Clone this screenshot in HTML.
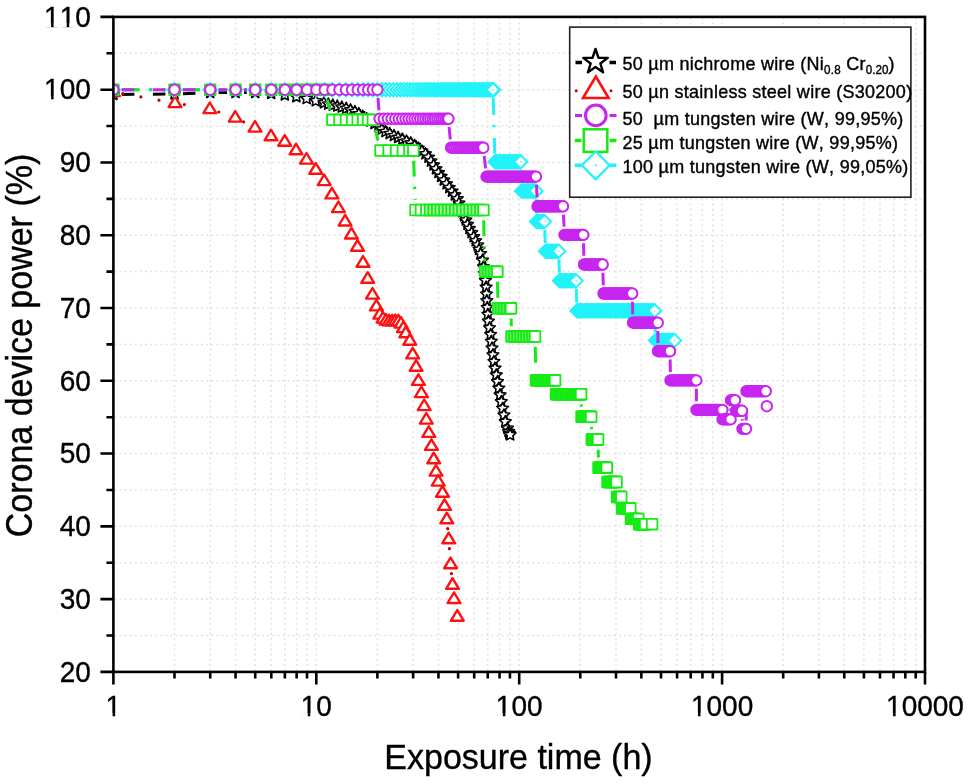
<!DOCTYPE html>
<html><head><meta charset="utf-8"><title>Corona device power</title>
<style>html,body{margin:0;padding:0;background:#fff;width:968px;height:784px;overflow:hidden;font-family:"Liberation Sans",sans-serif}svg{display:block;filter:blur(0.4px)}text{font-kerning:none}</style>
</head><body>
<svg width="968" height="784" viewBox="0 0 968 784">
<defs>
<clipPath id="pa"><rect x="113.4" y="16.9" width="811.6" height="655.0"/></clipPath>
<polygon id="st" points="0.00,-6.10 1.72,-2.37 5.80,-1.89 2.78,0.90 3.59,4.94 0.00,2.93 -3.59,4.94 -2.78,0.90 -5.80,-1.89 -1.72,-2.37" fill="#fff" stroke="#000" stroke-width="1.6" stroke-linejoin="round"/>
<polygon id="tr" points="0,-6.5 6.4,4.1 -6.4,4.1" fill="#fff" stroke="#ff1010" stroke-width="2.4" stroke-linejoin="round"/>
<circle id="ci" r="5.2" fill="#fff" stroke="#c825f0" stroke-width="2"/>
<rect id="sq" x="-5.3" y="-5.3" width="10.6" height="10.6" stroke="#14ea14" stroke-width="1.8" stroke-linejoin="round"/>
<g id="di"><polygon points="0,-6.6 6.6,0 0,6.6 -6.6,0" fill="#fff" stroke="#22f2fa" stroke-width="2"/><circle r="0.7" fill="#22f2fa"/></g>
</defs>
<rect width="968" height="784" fill="#fff"/>
<path d="M113.4 635.51H925.0M113.4 599.12H925.0M113.4 562.73H925.0M113.4 526.34H925.0M113.4 489.96H925.0M113.4 453.57H925.0M113.4 417.18H925.0M113.4 380.79H925.0M113.4 344.40H925.0M113.4 308.01H925.0M113.4 271.62H925.0M113.4 235.23H925.0M113.4 198.84H925.0M113.4 162.46H925.0M113.4 126.07H925.0M113.4 89.68H925.0M113.4 53.29H925.0" stroke="#e2e2e2" stroke-width="1.5" stroke-dasharray="2 3.0956" stroke-dashoffset="4.136" fill="none"/>
<path d="M174.48 16.9V671.9M210.21 16.9V671.9M235.56 16.9V671.9M255.22 16.9V671.9M271.29 16.9V671.9M284.87 16.9V671.9M296.64 16.9V671.9M307.02 16.9V671.9M316.30 16.9V671.9M377.38 16.9V671.9M413.11 16.9V671.9M438.46 16.9V671.9M458.12 16.9V671.9M474.19 16.9V671.9M487.77 16.9V671.9M499.54 16.9V671.9M509.92 16.9V671.9M519.20 16.9V671.9M580.28 16.9V671.9M616.01 16.9V671.9M641.36 16.9V671.9M661.02 16.9V671.9M677.09 16.9V671.9M690.67 16.9V671.9M702.44 16.9V671.9M712.82 16.9V671.9M722.10 16.9V671.9M783.18 16.9V671.9M818.91 16.9V671.9M844.26 16.9V671.9M863.92 16.9V671.9M879.99 16.9V671.9M893.57 16.9V671.9M905.34 16.9V671.9M915.72 16.9V671.9" stroke="#e2e2e2" stroke-width="1.5" stroke-dasharray="2 3.174" stroke-dashoffset="4.74" fill="none"/>
<g clip-path="url(#pa)">
<path d="M121.90 94.43L165.98 94.07M182.97 93.67L201.69 92.93M218.68 92.60L227.04 92.60M244.04 92.60L246.70 92.60" fill="none" stroke="#000" stroke-width="3" stroke-dasharray="12.5 18.5"/>
<path d="M122.75 93.67L165.65 101.33M184.36 104.61L200.44 107.39M218.81 112.01L226.19 114.49M243.68 121.78L246.52 123.22M447.70 528.66L447.80 529.74M449.42 548.67L449.88 554.63M451.47 573.56L451.63 575.24" fill="none" stroke="#c40000" stroke-width="3.2" stroke-linecap="round" stroke-dasharray="0 18.4"/>
<use href="#st" x="113.4" y="94.5"/>
<use href="#st" x="174.5" y="94.0"/>
<use href="#st" x="210.2" y="92.6"/>
<use href="#st" x="235.5" y="92.6"/>
<use href="#st" x="255.2" y="92.6"/>
<use href="#st" x="271.2" y="93.5"/>
<use href="#st" x="284.8" y="95.0"/>
<use href="#st" x="296.4" y="96.8"/>
<use href="#st" x="306.6" y="98.7"/>
<use href="#st" x="315.7" y="100.9"/>
<use href="#st" x="323.9" y="102.9"/>
<use href="#st" x="328.3" y="104.1"/>
<use href="#st" x="332.8" y="105.2"/>
<use href="#st" x="337.3" y="106.2"/>
<use href="#st" x="341.8" y="107.2"/>
<use href="#st" x="346.2" y="108.4"/>
<use href="#st" x="350.5" y="110.0"/>
<use href="#st" x="354.9" y="111.6"/>
<use href="#st" x="358.8" y="113.8"/>
<use href="#st" x="362.7" y="116.4"/>
<use href="#st" x="366.6" y="118.8"/>
<use href="#st" x="370.5" y="121.2"/>
<use href="#st" x="374.5" y="123.6"/>
<use href="#st" x="378.2" y="126.3"/>
<use href="#st" x="381.7" y="129.2"/>
<use href="#st" x="385.5" y="131.7"/>
<use href="#st" x="389.7" y="133.6"/>
<use href="#st" x="393.9" y="135.6"/>
<use href="#st" x="398.1" y="137.5"/>
<use href="#st" x="402.3" y="139.3"/>
<use href="#st" x="406.5" y="141.1"/>
<use href="#st" x="410.7" y="143.0"/>
<use href="#st" x="414.6" y="145.5"/>
<use href="#st" x="418.2" y="148.3"/>
<use href="#st" x="421.9" y="151.1"/>
<use href="#st" x="425.5" y="153.9"/>
<use href="#st" x="428.5" y="157.3"/>
<use href="#st" x="431.0" y="161.1"/>
<use href="#st" x="433.5" y="165.0"/>
<use href="#st" x="436.0" y="168.9"/>
<use href="#st" x="438.5" y="172.7"/>
<use href="#st" x="441.1" y="176.5"/>
<use href="#st" x="443.8" y="180.2"/>
<use href="#st" x="446.6" y="183.9"/>
<use href="#st" x="449.3" y="187.6"/>
<use href="#st" x="452.0" y="191.3"/>
<use href="#st" x="454.8" y="195.0"/>
<use href="#st" x="457.3" y="198.8"/>
<use href="#st" x="459.0" y="203.1"/>
<use href="#st" x="460.7" y="207.4"/>
<use href="#st" x="462.4" y="211.6"/>
<use href="#st" x="464.1" y="215.9"/>
<use href="#st" x="465.8" y="220.2"/>
<use href="#st" x="467.5" y="224.5"/>
<use href="#st" x="469.5" y="228.6"/>
<use href="#st" x="471.6" y="232.7"/>
<use href="#st" x="473.7" y="236.8"/>
<use href="#st" x="475.7" y="240.9"/>
<use href="#st" x="477.7" y="245.1"/>
<use href="#st" x="479.1" y="249.4"/>
<use href="#st" x="480.5" y="253.8"/>
<use href="#st" x="482.5" y="260.3"/>
<use href="#st" x="483.5" y="267.0"/>
<use href="#st" x="484.4" y="273.8"/>
<use href="#st" x="485.4" y="280.5"/>
<use href="#st" x="486.1" y="287.3"/>
<use href="#st" x="486.5" y="294.1"/>
<use href="#st" x="486.8" y="300.8"/>
<use href="#st" x="487.2" y="307.6"/>
<use href="#st" x="487.8" y="314.4"/>
<use href="#st" x="488.4" y="321.2"/>
<use href="#st" x="489.5" y="327.9"/>
<use href="#st" x="490.6" y="334.6"/>
<use href="#st" x="491.3" y="341.4"/>
<use href="#st" x="492.0" y="348.1"/>
<use href="#st" x="492.9" y="354.9"/>
<use href="#st" x="493.9" y="361.6"/>
<use href="#st" x="495.0" y="368.3"/>
<use href="#st" x="496.3" y="375.0"/>
<use href="#st" x="497.5" y="381.7"/>
<use href="#st" x="498.8" y="388.3"/>
<use href="#st" x="500.1" y="395.0"/>
<use href="#st" x="501.3" y="401.7"/>
<use href="#st" x="502.6" y="408.4"/>
<use href="#st" x="503.9" y="415.1"/>
<use href="#st" x="505.3" y="421.7"/>
<use href="#st" x="507.4" y="428.2"/>
<use href="#st" x="509.9" y="434.5"/>
<use href="#st" x="508.5" y="431.5"/>
<use href="#st" x="509.3" y="433.3"/>
<use href="#st" x="510.1" y="434.9"/>
<use href="#tr" x="113.4" y="92.0"/>
<use href="#tr" x="175.0" y="103.0"/>
<use href="#tr" x="209.8" y="109.0"/>
<use href="#tr" x="235.2" y="117.5"/>
<use href="#tr" x="255.0" y="127.5"/>
<use href="#tr" x="271.0" y="136.2"/>
<use href="#tr" x="284.7" y="141.6"/>
<use href="#tr" x="296.0" y="150.2"/>
<use href="#tr" x="306.5" y="159.5"/>
<use href="#tr" x="315.8" y="169.6"/>
<use href="#tr" x="324.2" y="181.0"/>
<use href="#tr" x="331.9" y="194.3"/>
<use href="#tr" x="338.4" y="208.0"/>
<use href="#tr" x="345.1" y="221.4"/>
<use href="#tr" x="351.4" y="234.4"/>
<use href="#tr" x="357.5" y="246.6"/>
<use href="#tr" x="363.0" y="262.6"/>
<use href="#tr" x="367.7" y="278.7"/>
<use href="#tr" x="372.5" y="294.5"/>
<use href="#tr" x="376.4" y="306.3"/>
<use href="#tr" x="379.8" y="314.5"/>
<use href="#tr" x="383.0" y="318.5"/>
<use href="#tr" x="386.0" y="320.5"/>
<use href="#tr" x="389.0" y="321.3"/>
<use href="#tr" x="392.2" y="321.3"/>
<use href="#tr" x="395.3" y="321.0"/>
<use href="#tr" x="398.3" y="321.3"/>
<use href="#tr" x="401.0" y="323.5"/>
<use href="#tr" x="403.4" y="328.0"/>
<use href="#tr" x="405.8" y="333.2"/>
<use href="#tr" x="409.8" y="340.6"/>
<use href="#tr" x="412.7" y="354.3"/>
<use href="#tr" x="416.1" y="366.7"/>
<use href="#tr" x="418.4" y="380.8"/>
<use href="#tr" x="421.4" y="393.0"/>
<use href="#tr" x="424.2" y="406.0"/>
<use href="#tr" x="426.3" y="419.5"/>
<use href="#tr" x="428.8" y="432.8"/>
<use href="#tr" x="431.4" y="445.8"/>
<use href="#tr" x="433.7" y="459.2"/>
<use href="#tr" x="436.0" y="471.5"/>
<use href="#tr" x="438.2" y="481.5"/>
<use href="#tr" x="442.5" y="492.6"/>
<use href="#tr" x="444.5" y="505.8"/>
<use href="#tr" x="446.8" y="519.2"/>
<use href="#tr" x="448.7" y="539.2"/>
<use href="#tr" x="450.6" y="564.1"/>
<use href="#tr" x="452.5" y="584.7"/>
<use href="#tr" x="454.0" y="598.9"/>
<use href="#tr" x="457.3" y="616.6"/>
<path d="M121.50 89.68L166.38 89.68M182.58 89.68L202.11 89.68M218.31 89.68L227.46 89.68M243.66 89.68L247.12 89.68M493.22 97.77L494.78 153.70M520.92 169.90L521.28 183.00M536.13 199.20L536.37 213.50M544.77 229.70L545.23 243.10M558.99 259.30L559.31 272.70M576.34 288.90L576.76 302.70M654.92 318.90L655.28 332.40" fill="none" stroke="#22f2fa" stroke-width="3" stroke-dasharray="17.3 9.7 2.5 10.8"/>
<use href="#di" x="113.4" y="89.7"/>
<use href="#di" x="174.5" y="89.7"/>
<use href="#di" x="210.2" y="89.7"/>
<use href="#di" x="235.6" y="89.7"/>
<use href="#di" x="255.2" y="89.7"/>
<use href="#di" x="271.3" y="89.7"/>
<use href="#di" x="284.9" y="89.7"/>
<use href="#di" x="296.6" y="89.7"/>
<use href="#di" x="307.0" y="89.7"/>
<use href="#di" x="316.3" y="89.7"/>
<use href="#di" x="324.7" y="89.7"/>
<use href="#di" x="332.4" y="89.7"/>
<use href="#di" x="339.4" y="89.7"/>
<use href="#di" x="345.9" y="89.7"/>
<use href="#di" x="352.0" y="89.7"/>
<use href="#di" x="357.7" y="89.7"/>
<use href="#di" x="363.1" y="89.7"/>
<use href="#di" x="368.1" y="89.7"/>
<use href="#di" x="372.9" y="89.7"/>
<use href="#di" x="377.4" y="89.7"/>
<use href="#di" x="381.7" y="89.7"/>
<use href="#di" x="385.8" y="89.7"/>
<use href="#di" x="389.7" y="89.7"/>
<use href="#di" x="393.4" y="89.7"/>
<use href="#di" x="397.0" y="89.7"/>
<use href="#di" x="400.5" y="89.7"/>
<use href="#di" x="403.8" y="89.7"/>
<use href="#di" x="407.0" y="89.7"/>
<use href="#di" x="410.1" y="89.7"/>
<use href="#di" x="413.1" y="89.7"/>
<use href="#di" x="416.0" y="89.7"/>
<use href="#di" x="418.8" y="89.7"/>
<use href="#di" x="421.5" y="89.7"/>
<use href="#di" x="424.1" y="89.7"/>
<use href="#di" x="426.7" y="89.7"/>
<use href="#di" x="429.2" y="89.7"/>
<use href="#di" x="431.6" y="89.7"/>
<use href="#di" x="433.9" y="89.7"/>
<use href="#di" x="436.2" y="89.7"/>
<use href="#di" x="438.5" y="89.7"/>
<use href="#di" x="440.6" y="89.7"/>
<use href="#di" x="442.8" y="89.7"/>
<use href="#di" x="444.8" y="89.7"/>
<use href="#di" x="446.9" y="89.7"/>
<use href="#di" x="448.8" y="89.7"/>
<use href="#di" x="450.8" y="89.7"/>
<use href="#di" x="452.7" y="89.7"/>
<use href="#di" x="454.5" y="89.7"/>
<use href="#di" x="456.3" y="89.7"/>
<use href="#di" x="458.1" y="89.7"/>
<use href="#di" x="459.9" y="89.7"/>
<use href="#di" x="461.6" y="89.7"/>
<use href="#di" x="463.3" y="89.7"/>
<use href="#di" x="464.9" y="89.7"/>
<use href="#di" x="466.5" y="89.7"/>
<use href="#di" x="468.1" y="89.7"/>
<use href="#di" x="469.7" y="89.7"/>
<use href="#di" x="471.2" y="89.7"/>
<use href="#di" x="472.7" y="89.7"/>
<use href="#di" x="474.2" y="89.7"/>
<use href="#di" x="475.6" y="89.7"/>
<use href="#di" x="477.1" y="89.7"/>
<use href="#di" x="478.5" y="89.7"/>
<use href="#di" x="479.9" y="89.7"/>
<use href="#di" x="481.2" y="89.7"/>
<use href="#di" x="482.6" y="89.7"/>
<use href="#di" x="483.9" y="89.7"/>
<use href="#di" x="485.2" y="89.7"/>
<use href="#di" x="486.5" y="89.7"/>
<use href="#di" x="487.8" y="89.7"/>
<use href="#di" x="489.0" y="89.7"/>
<use href="#di" x="490.3" y="89.7"/>
<use href="#di" x="491.5" y="89.7"/>
<use href="#di" x="492.7" y="89.7"/>
<use href="#di" x="493.8" y="89.7"/>
<use href="#di" x="493.0" y="89.7"/>
<use href="#di" x="495.0" y="161.8"/>
<use href="#di" x="496.2" y="161.8"/>
<use href="#di" x="497.4" y="161.8"/>
<use href="#di" x="498.6" y="161.8"/>
<use href="#di" x="499.8" y="161.8"/>
<use href="#di" x="501.0" y="161.8"/>
<use href="#di" x="502.2" y="161.8"/>
<use href="#di" x="503.4" y="161.8"/>
<use href="#di" x="504.6" y="161.8"/>
<use href="#di" x="505.8" y="161.8"/>
<use href="#di" x="507.0" y="161.8"/>
<use href="#di" x="508.2" y="161.8"/>
<use href="#di" x="509.4" y="161.8"/>
<use href="#di" x="510.6" y="161.8"/>
<use href="#di" x="511.8" y="161.8"/>
<use href="#di" x="513.0" y="161.8"/>
<use href="#di" x="514.2" y="161.8"/>
<use href="#di" x="515.4" y="161.8"/>
<use href="#di" x="516.6" y="161.8"/>
<use href="#di" x="517.8" y="161.8"/>
<use href="#di" x="519.0" y="161.8"/>
<use href="#di" x="520.2" y="161.8"/>
<use href="#di" x="520.7" y="161.8"/>
<use href="#di" x="521.5" y="191.1"/>
<use href="#di" x="522.7" y="191.1"/>
<use href="#di" x="523.9" y="191.1"/>
<use href="#di" x="525.1" y="191.1"/>
<use href="#di" x="526.3" y="191.1"/>
<use href="#di" x="527.5" y="191.1"/>
<use href="#di" x="528.7" y="191.1"/>
<use href="#di" x="529.9" y="191.1"/>
<use href="#di" x="531.1" y="191.1"/>
<use href="#di" x="532.3" y="191.1"/>
<use href="#di" x="533.5" y="191.1"/>
<use href="#di" x="534.7" y="191.1"/>
<use href="#di" x="536.0" y="191.1"/>
<use href="#di" x="536.5" y="221.6"/>
<use href="#di" x="537.7" y="221.6"/>
<use href="#di" x="538.9" y="221.6"/>
<use href="#di" x="540.1" y="221.6"/>
<use href="#di" x="541.3" y="221.6"/>
<use href="#di" x="542.5" y="221.6"/>
<use href="#di" x="543.7" y="221.6"/>
<use href="#di" x="544.5" y="221.6"/>
<use href="#di" x="545.5" y="251.2"/>
<use href="#di" x="546.7" y="251.2"/>
<use href="#di" x="547.9" y="251.2"/>
<use href="#di" x="549.1" y="251.2"/>
<use href="#di" x="550.3" y="251.2"/>
<use href="#di" x="551.5" y="251.2"/>
<use href="#di" x="552.7" y="251.2"/>
<use href="#di" x="553.9" y="251.2"/>
<use href="#di" x="555.1" y="251.2"/>
<use href="#di" x="556.3" y="251.2"/>
<use href="#di" x="557.5" y="251.2"/>
<use href="#di" x="558.8" y="251.2"/>
<use href="#di" x="559.5" y="280.8"/>
<use href="#di" x="560.7" y="280.8"/>
<use href="#di" x="561.9" y="280.8"/>
<use href="#di" x="563.1" y="280.8"/>
<use href="#di" x="564.3" y="280.8"/>
<use href="#di" x="565.5" y="280.8"/>
<use href="#di" x="566.7" y="280.8"/>
<use href="#di" x="567.9" y="280.8"/>
<use href="#di" x="569.1" y="280.8"/>
<use href="#di" x="570.3" y="280.8"/>
<use href="#di" x="571.5" y="280.8"/>
<use href="#di" x="572.7" y="280.8"/>
<use href="#di" x="573.9" y="280.8"/>
<use href="#di" x="575.1" y="280.8"/>
<use href="#di" x="576.1" y="280.8"/>
<use href="#di" x="577.0" y="310.8"/>
<use href="#di" x="578.2" y="310.8"/>
<use href="#di" x="579.4" y="310.8"/>
<use href="#di" x="580.6" y="310.8"/>
<use href="#di" x="581.8" y="310.8"/>
<use href="#di" x="583.0" y="310.8"/>
<use href="#di" x="584.2" y="310.8"/>
<use href="#di" x="585.4" y="310.8"/>
<use href="#di" x="586.6" y="310.8"/>
<use href="#di" x="587.8" y="310.8"/>
<use href="#di" x="589.0" y="310.8"/>
<use href="#di" x="590.2" y="310.8"/>
<use href="#di" x="591.4" y="310.8"/>
<use href="#di" x="592.6" y="310.8"/>
<use href="#di" x="593.8" y="310.8"/>
<use href="#di" x="595.0" y="310.8"/>
<use href="#di" x="596.2" y="310.8"/>
<use href="#di" x="597.4" y="310.8"/>
<use href="#di" x="598.6" y="310.8"/>
<use href="#di" x="599.8" y="310.8"/>
<use href="#di" x="601.0" y="310.8"/>
<use href="#di" x="602.2" y="310.8"/>
<use href="#di" x="603.4" y="310.8"/>
<use href="#di" x="604.6" y="310.8"/>
<use href="#di" x="605.8" y="310.8"/>
<use href="#di" x="607.0" y="310.8"/>
<use href="#di" x="608.2" y="310.8"/>
<use href="#di" x="609.4" y="310.8"/>
<use href="#di" x="610.6" y="310.8"/>
<use href="#di" x="611.8" y="310.8"/>
<use href="#di" x="613.0" y="310.8"/>
<use href="#di" x="614.2" y="310.8"/>
<use href="#di" x="615.4" y="310.8"/>
<use href="#di" x="616.6" y="310.8"/>
<use href="#di" x="617.8" y="310.8"/>
<use href="#di" x="619.0" y="310.8"/>
<use href="#di" x="620.2" y="310.8"/>
<use href="#di" x="621.4" y="310.8"/>
<use href="#di" x="622.6" y="310.8"/>
<use href="#di" x="623.8" y="310.8"/>
<use href="#di" x="625.0" y="310.8"/>
<use href="#di" x="626.2" y="310.8"/>
<use href="#di" x="627.4" y="310.8"/>
<use href="#di" x="628.6" y="310.8"/>
<use href="#di" x="629.8" y="310.8"/>
<use href="#di" x="631.0" y="310.8"/>
<use href="#di" x="632.2" y="310.8"/>
<use href="#di" x="633.4" y="310.8"/>
<use href="#di" x="634.6" y="310.8"/>
<use href="#di" x="635.8" y="310.8"/>
<use href="#di" x="637.0" y="310.8"/>
<use href="#di" x="638.2" y="310.8"/>
<use href="#di" x="639.4" y="310.8"/>
<use href="#di" x="640.6" y="310.8"/>
<use href="#di" x="641.8" y="310.8"/>
<use href="#di" x="643.0" y="310.8"/>
<use href="#di" x="644.2" y="310.8"/>
<use href="#di" x="645.4" y="310.8"/>
<use href="#di" x="646.6" y="310.8"/>
<use href="#di" x="647.8" y="310.8"/>
<use href="#di" x="649.0" y="310.8"/>
<use href="#di" x="650.2" y="310.8"/>
<use href="#di" x="651.4" y="310.8"/>
<use href="#di" x="652.6" y="310.8"/>
<use href="#di" x="653.8" y="310.8"/>
<use href="#di" x="654.7" y="310.8"/>
<use href="#di" x="655.5" y="340.5"/>
<use href="#di" x="656.7" y="340.5"/>
<use href="#di" x="657.9" y="340.5"/>
<use href="#di" x="659.1" y="340.5"/>
<use href="#di" x="660.3" y="340.5"/>
<use href="#di" x="661.5" y="340.5"/>
<use href="#di" x="662.7" y="340.5"/>
<use href="#di" x="663.9" y="340.5"/>
<use href="#di" x="665.1" y="340.5"/>
<use href="#di" x="666.3" y="340.5"/>
<use href="#di" x="667.5" y="340.5"/>
<use href="#di" x="668.7" y="340.5"/>
<use href="#di" x="669.9" y="340.5"/>
<use href="#di" x="671.1" y="340.5"/>
<use href="#di" x="672.3" y="340.5"/>
<use href="#di" x="673.5" y="340.5"/>
<use href="#di" x="674.5" y="340.5"/>
<path d="M123.60 89.68L164.28 89.68M184.68 89.68L200.01 89.68M220.41 89.68L225.36 89.68M327.23 99.56L329.87 109.92M375.35 129.70L378.05 140.60M413.68 160.69L415.12 199.81M483.66 220.20L484.74 261.40M497.49 281.80L497.81 298.10M511.18 318.50L511.32 326.30M535.23 346.70L535.77 370.10M581.28 404.40L581.32 406.60M591.47 427.00L591.53 429.30M598.24 449.70L598.36 457.50" fill="none" stroke="#14ea14" stroke-width="3" stroke-dasharray="16 10 2.5 9.8"/>
<g fill="#fff">
<use href="#sq" x="113.4" y="89.7"/>
<use href="#sq" x="174.5" y="89.7"/>
<use href="#sq" x="210.2" y="89.7"/>
<use href="#sq" x="235.6" y="89.7"/>
<use href="#sq" x="255.2" y="89.7"/>
<use href="#sq" x="271.3" y="89.7"/>
<use href="#sq" x="284.9" y="89.7"/>
<use href="#sq" x="296.6" y="89.7"/>
<use href="#sq" x="307.0" y="89.7"/>
<use href="#sq" x="316.3" y="89.7"/>
<use href="#sq" x="324.7" y="89.7"/>
<use href="#sq" x="332.4" y="119.8"/>
<use href="#sq" x="339.5" y="119.8"/>
<use href="#sq" x="346.0" y="119.8"/>
<use href="#sq" x="352.1" y="119.8"/>
<use href="#sq" x="357.7" y="119.8"/>
<use href="#sq" x="363.1" y="119.8"/>
<use href="#sq" x="368.1" y="119.8"/>
<use href="#sq" x="372.9" y="119.8"/>
<use href="#sq" x="380.5" y="150.5"/>
<use href="#sq" x="388.6" y="150.5"/>
<use href="#sq" x="396.1" y="150.5"/>
<use href="#sq" x="402.9" y="150.5"/>
<use href="#sq" x="409.3" y="150.5"/>
<use href="#sq" x="413.3" y="150.5"/>
<use href="#sq" x="415.5" y="210.0"/>
<use href="#sq" x="421.0" y="210.0"/>
<use href="#sq" x="426.3" y="210.0"/>
<use href="#sq" x="430.0" y="210.0" fill="#a2f3a2"/>
<use href="#sq" x="433.6" y="210.0" fill="#a2f3a2"/>
<use href="#sq" x="437.2" y="210.0" fill="#a2f3a2"/>
<use href="#sq" x="440.8" y="210.0" fill="#a2f3a2"/>
<use href="#sq" x="444.4" y="210.0" fill="#a2f3a2"/>
<use href="#sq" x="448.0" y="210.0" fill="#a2f3a2"/>
<use href="#sq" x="451.6" y="210.0" fill="#a2f3a2"/>
<use href="#sq" x="455.2" y="210.0" fill="#a2f3a2"/>
<use href="#sq" x="458.8" y="210.0" fill="#a2f3a2"/>
<use href="#sq" x="462.4" y="210.0" fill="#a2f3a2"/>
<use href="#sq" x="466.0" y="210.0" fill="#a2f3a2"/>
<use href="#sq" x="469.6" y="210.0" fill="#a2f3a2"/>
<use href="#sq" x="473.2" y="210.0" fill="#a2f3a2"/>
<use href="#sq" x="476.8" y="210.0" fill="#a2f3a2"/>
<use href="#sq" x="480.4" y="210.0" fill="#a2f3a2"/>
<use href="#sq" x="483.4" y="210.0"/>
<use href="#sq" x="485.0" y="271.6" fill="#6aec6a"/>
<use href="#sq" x="488.0" y="271.6" fill="#6aec6a"/>
<use href="#sq" x="491.0" y="271.6" fill="#6aec6a"/>
<use href="#sq" x="494.0" y="271.6" fill="#6aec6a"/>
<use href="#sq" x="497.0" y="271.6" fill="#6aec6a"/>
<use href="#sq" x="497.3" y="271.6"/>
<use href="#sq" x="498.0" y="308.3" fill="#6aec6a"/>
<use href="#sq" x="501.0" y="308.3" fill="#6aec6a"/>
<use href="#sq" x="504.0" y="308.3" fill="#6aec6a"/>
<use href="#sq" x="507.0" y="308.3" fill="#6aec6a"/>
<use href="#sq" x="510.0" y="308.3" fill="#6aec6a"/>
<use href="#sq" x="511.0" y="308.3"/>
<use href="#sq" x="511.5" y="336.5" fill="#6aec6a"/>
<use href="#sq" x="514.5" y="336.5" fill="#6aec6a"/>
<use href="#sq" x="517.5" y="336.5" fill="#6aec6a"/>
<use href="#sq" x="520.5" y="336.5" fill="#6aec6a"/>
<use href="#sq" x="523.5" y="336.5" fill="#6aec6a"/>
<use href="#sq" x="526.5" y="336.5" fill="#6aec6a"/>
<use href="#sq" x="529.5" y="336.5" fill="#6aec6a"/>
<use href="#sq" x="532.5" y="336.5" fill="#6aec6a"/>
<use href="#sq" x="535.0" y="336.5"/>
<use href="#sq" x="536.0" y="380.3"/>
<use href="#sq" x="537.2" y="380.3"/>
<use href="#sq" x="538.4" y="380.3"/>
<use href="#sq" x="539.6" y="380.3"/>
<use href="#sq" x="540.8" y="380.3"/>
<use href="#sq" x="542.0" y="380.3"/>
<use href="#sq" x="543.2" y="380.3"/>
<use href="#sq" x="544.4" y="380.3"/>
<use href="#sq" x="545.6" y="380.3"/>
<use href="#sq" x="546.8" y="380.3"/>
<use href="#sq" x="548.0" y="380.3"/>
<use href="#sq" x="549.2" y="380.3"/>
<use href="#sq" x="550.4" y="380.3"/>
<use href="#sq" x="551.6" y="380.3"/>
<use href="#sq" x="552.8" y="380.3"/>
<use href="#sq" x="554.0" y="380.3"/>
<use href="#sq" x="555.1" y="380.3"/>
<use href="#sq" x="556.0" y="394.2"/>
<use href="#sq" x="557.2" y="394.2"/>
<use href="#sq" x="558.4" y="394.2"/>
<use href="#sq" x="559.6" y="394.2"/>
<use href="#sq" x="560.8" y="394.2"/>
<use href="#sq" x="562.0" y="394.2"/>
<use href="#sq" x="563.2" y="394.2"/>
<use href="#sq" x="564.4" y="394.2"/>
<use href="#sq" x="565.6" y="394.2"/>
<use href="#sq" x="566.8" y="394.2"/>
<use href="#sq" x="568.0" y="394.2"/>
<use href="#sq" x="569.2" y="394.2"/>
<use href="#sq" x="570.4" y="394.2"/>
<use href="#sq" x="571.6" y="394.2"/>
<use href="#sq" x="572.8" y="394.2"/>
<use href="#sq" x="574.0" y="394.2"/>
<use href="#sq" x="575.2" y="394.2"/>
<use href="#sq" x="576.4" y="394.2"/>
<use href="#sq" x="577.6" y="394.2"/>
<use href="#sq" x="578.8" y="394.2"/>
<use href="#sq" x="580.0" y="394.2"/>
<use href="#sq" x="581.1" y="394.2"/>
<use href="#sq" x="581.5" y="416.8"/>
<use href="#sq" x="582.7" y="416.8"/>
<use href="#sq" x="583.9" y="416.8"/>
<use href="#sq" x="585.1" y="416.8"/>
<use href="#sq" x="586.3" y="416.8"/>
<use href="#sq" x="587.5" y="416.8"/>
<use href="#sq" x="588.7" y="416.8"/>
<use href="#sq" x="589.9" y="416.8"/>
<use href="#sq" x="591.2" y="416.8"/>
<use href="#sq" x="591.8" y="439.5"/>
<use href="#sq" x="593.0" y="439.5"/>
<use href="#sq" x="594.2" y="439.5"/>
<use href="#sq" x="595.4" y="439.5"/>
<use href="#sq" x="596.6" y="439.5"/>
<use href="#sq" x="598.1" y="439.5"/>
<use href="#sq" x="598.5" y="467.7"/>
<use href="#sq" x="599.7" y="467.7"/>
<use href="#sq" x="600.9" y="467.7"/>
<use href="#sq" x="602.1" y="467.7"/>
<use href="#sq" x="603.3" y="467.7"/>
<use href="#sq" x="604.5" y="467.7"/>
<use href="#sq" x="605.7" y="467.7"/>
<use href="#sq" x="606.8" y="467.7"/>
<use href="#sq" x="607.5" y="482.0"/>
<use href="#sq" x="608.7" y="482.0"/>
<use href="#sq" x="609.9" y="482.0"/>
<use href="#sq" x="611.1" y="482.0"/>
<use href="#sq" x="612.3" y="482.0"/>
<use href="#sq" x="613.5" y="482.0"/>
<use href="#sq" x="614.7" y="482.0"/>
<use href="#sq" x="615.9" y="482.0"/>
<use href="#sq" x="616.5" y="482.0"/>
<use href="#sq" x="617.0" y="497.0"/>
<use href="#sq" x="618.2" y="497.0"/>
<use href="#sq" x="619.4" y="497.0"/>
<use href="#sq" x="620.6" y="497.0"/>
<use href="#sq" x="621.3" y="497.0"/>
<use href="#sq" x="622.0" y="508.4"/>
<use href="#sq" x="623.2" y="508.4"/>
<use href="#sq" x="624.4" y="508.4"/>
<use href="#sq" x="625.6" y="508.4"/>
<use href="#sq" x="626.8" y="508.4"/>
<use href="#sq" x="628.0" y="508.4"/>
<use href="#sq" x="629.2" y="508.4"/>
<use href="#sq" x="630.3" y="508.4"/>
<use href="#sq" x="631.0" y="518.9"/>
<use href="#sq" x="632.2" y="518.9"/>
<use href="#sq" x="633.4" y="518.9"/>
<use href="#sq" x="634.6" y="518.9"/>
<use href="#sq" x="635.8" y="518.9"/>
<use href="#sq" x="637.0" y="518.9"/>
<use href="#sq" x="638.3" y="518.9"/>
<use href="#sq" x="639.0" y="524.2"/>
<use href="#sq" x="640.2" y="524.2"/>
<use href="#sq" x="641.4" y="524.2"/>
<use href="#sq" x="642.6" y="524.2"/>
<use href="#sq" x="643.8" y="524.2"/>
<use href="#sq" x="645.2" y="524.2"/>
<use href="#sq" x="652.1" y="524.2"/>
</g>
<path d="M121.70 89.68L166.18 89.68M182.78 89.68L201.91 89.68M218.51 89.68L227.26 89.68M243.86 89.68L246.92 89.68M378.01 97.95L378.97 110.52M449.14 127.07L450.26 139.43M484.21 155.95L485.59 168.35M536.42 184.89L537.08 198.01M563.43 214.59L564.07 226.61M583.50 243.20L583.80 256.20M602.93 272.80L603.27 285.20M632.43 301.80L632.77 314.40M657.86 331.00L657.94 342.90M670.14 359.50L670.36 372.10M696.36 388.70L696.44 401.60M730.77 411.10L730.83 408.50M742.23 419.10L742.27 420.60M746.11 420.60L746.39 399.50" fill="none" stroke="#c825f0" stroke-width="3" stroke-dasharray="12.5 18.5"/>
<use href="#ci" x="113.4" y="89.7"/>
<use href="#ci" x="174.5" y="89.7"/>
<use href="#ci" x="210.2" y="89.7"/>
<use href="#ci" x="235.6" y="89.7"/>
<use href="#ci" x="255.2" y="89.7"/>
<use href="#ci" x="271.3" y="89.7"/>
<use href="#ci" x="284.9" y="89.7"/>
<use href="#ci" x="296.6" y="89.7"/>
<use href="#ci" x="307.0" y="89.7"/>
<use href="#ci" x="316.3" y="89.7"/>
<use href="#ci" x="324.7" y="89.7"/>
<use href="#ci" x="332.4" y="89.7"/>
<use href="#ci" x="339.4" y="89.7"/>
<use href="#ci" x="345.9" y="89.7"/>
<use href="#ci" x="352.0" y="89.7"/>
<use href="#ci" x="357.7" y="89.7"/>
<use href="#ci" x="363.1" y="89.7"/>
<use href="#ci" x="368.1" y="89.7"/>
<use href="#ci" x="372.9" y="89.7"/>
<use href="#ci" x="377.4" y="89.7"/>
<use href="#ci" x="379.6" y="118.8"/>
<use href="#ci" x="383.8" y="118.8"/>
<use href="#ci" x="387.8" y="118.8"/>
<use href="#ci" x="391.6" y="118.8"/>
<use href="#ci" x="395.3" y="118.8"/>
<use href="#ci" x="398.8" y="118.8"/>
<use href="#ci" x="402.2" y="118.8"/>
<use href="#ci" x="405.5" y="118.8"/>
<use href="#ci" x="408.6" y="118.8"/>
<use href="#ci" x="411.7" y="118.8"/>
<use href="#ci" x="414.6" y="118.8"/>
<use href="#ci" x="417.4" y="118.8"/>
<use href="#ci" x="420.2" y="118.8"/>
<use href="#ci" x="422.9" y="118.8"/>
<use href="#ci" x="425.5" y="118.8"/>
<use href="#ci" x="428.0" y="118.8"/>
<use href="#ci" x="430.4" y="118.8"/>
<use href="#ci" x="432.8" y="118.8"/>
<use href="#ci" x="435.1" y="118.8"/>
<use href="#ci" x="437.4" y="118.8"/>
<use href="#ci" x="439.6" y="118.8"/>
<use href="#ci" x="441.7" y="118.8"/>
<use href="#ci" x="443.8" y="118.8"/>
<use href="#ci" x="445.9" y="118.8"/>
<use href="#ci" x="447.9" y="118.8"/>
<use href="#ci" x="448.4" y="118.8"/>
<use href="#ci" x="451.0" y="147.7"/>
<use href="#ci" x="452.9" y="147.7"/>
<use href="#ci" x="454.7" y="147.7"/>
<use href="#ci" x="456.6" y="147.7"/>
<use href="#ci" x="458.3" y="147.7"/>
<use href="#ci" x="460.1" y="147.7"/>
<use href="#ci" x="461.8" y="147.7"/>
<use href="#ci" x="463.5" y="147.7"/>
<use href="#ci" x="465.1" y="147.7"/>
<use href="#ci" x="466.7" y="147.7"/>
<use href="#ci" x="468.3" y="147.7"/>
<use href="#ci" x="469.8" y="147.7"/>
<use href="#ci" x="471.4" y="147.7"/>
<use href="#ci" x="472.9" y="147.7"/>
<use href="#ci" x="474.4" y="147.7"/>
<use href="#ci" x="475.8" y="147.7"/>
<use href="#ci" x="477.2" y="147.7"/>
<use href="#ci" x="478.7" y="147.7"/>
<use href="#ci" x="480.0" y="147.7"/>
<use href="#ci" x="481.4" y="147.7"/>
<use href="#ci" x="482.7" y="147.7"/>
<use href="#ci" x="483.3" y="147.7"/>
<use href="#ci" x="486.5" y="176.6"/>
<use href="#ci" x="487.8" y="176.6"/>
<use href="#ci" x="489.1" y="176.6"/>
<use href="#ci" x="490.4" y="176.6"/>
<use href="#ci" x="491.7" y="176.6"/>
<use href="#ci" x="493.0" y="176.6"/>
<use href="#ci" x="494.3" y="176.6"/>
<use href="#ci" x="495.6" y="176.6"/>
<use href="#ci" x="496.9" y="176.6"/>
<use href="#ci" x="498.2" y="176.6"/>
<use href="#ci" x="499.5" y="176.6"/>
<use href="#ci" x="500.8" y="176.6"/>
<use href="#ci" x="502.1" y="176.6"/>
<use href="#ci" x="503.4" y="176.6"/>
<use href="#ci" x="504.7" y="176.6"/>
<use href="#ci" x="506.0" y="176.6"/>
<use href="#ci" x="507.3" y="176.6"/>
<use href="#ci" x="508.6" y="176.6"/>
<use href="#ci" x="509.9" y="176.6"/>
<use href="#ci" x="511.2" y="176.6"/>
<use href="#ci" x="512.5" y="176.6"/>
<use href="#ci" x="513.8" y="176.6"/>
<use href="#ci" x="515.1" y="176.6"/>
<use href="#ci" x="516.4" y="176.6"/>
<use href="#ci" x="517.7" y="176.6"/>
<use href="#ci" x="519.0" y="176.6"/>
<use href="#ci" x="520.3" y="176.6"/>
<use href="#ci" x="521.6" y="176.6"/>
<use href="#ci" x="522.9" y="176.6"/>
<use href="#ci" x="524.2" y="176.6"/>
<use href="#ci" x="525.5" y="176.6"/>
<use href="#ci" x="526.8" y="176.6"/>
<use href="#ci" x="528.1" y="176.6"/>
<use href="#ci" x="529.4" y="176.6"/>
<use href="#ci" x="530.7" y="176.6"/>
<use href="#ci" x="532.0" y="176.6"/>
<use href="#ci" x="533.3" y="176.6"/>
<use href="#ci" x="534.6" y="176.6"/>
<use href="#ci" x="536.0" y="176.6"/>
<use href="#ci" x="537.5" y="206.3"/>
<use href="#ci" x="538.8" y="206.3"/>
<use href="#ci" x="540.1" y="206.3"/>
<use href="#ci" x="541.4" y="206.3"/>
<use href="#ci" x="542.7" y="206.3"/>
<use href="#ci" x="544.0" y="206.3"/>
<use href="#ci" x="545.3" y="206.3"/>
<use href="#ci" x="546.6" y="206.3"/>
<use href="#ci" x="547.9" y="206.3"/>
<use href="#ci" x="549.2" y="206.3"/>
<use href="#ci" x="550.5" y="206.3"/>
<use href="#ci" x="551.8" y="206.3"/>
<use href="#ci" x="553.1" y="206.3"/>
<use href="#ci" x="554.4" y="206.3"/>
<use href="#ci" x="555.7" y="206.3"/>
<use href="#ci" x="557.0" y="206.3"/>
<use href="#ci" x="558.3" y="206.3"/>
<use href="#ci" x="559.6" y="206.3"/>
<use href="#ci" x="560.9" y="206.3"/>
<use href="#ci" x="562.2" y="206.3"/>
<use href="#ci" x="563.0" y="206.3"/>
<use href="#ci" x="564.5" y="234.9"/>
<use href="#ci" x="565.8" y="234.9"/>
<use href="#ci" x="567.1" y="234.9"/>
<use href="#ci" x="568.4" y="234.9"/>
<use href="#ci" x="569.7" y="234.9"/>
<use href="#ci" x="571.0" y="234.9"/>
<use href="#ci" x="572.3" y="234.9"/>
<use href="#ci" x="573.6" y="234.9"/>
<use href="#ci" x="574.9" y="234.9"/>
<use href="#ci" x="576.2" y="234.9"/>
<use href="#ci" x="577.5" y="234.9"/>
<use href="#ci" x="578.8" y="234.9"/>
<use href="#ci" x="580.1" y="234.9"/>
<use href="#ci" x="581.4" y="234.9"/>
<use href="#ci" x="582.7" y="234.9"/>
<use href="#ci" x="583.3" y="234.9"/>
<use href="#ci" x="584.0" y="264.5"/>
<use href="#ci" x="585.3" y="264.5"/>
<use href="#ci" x="586.6" y="264.5"/>
<use href="#ci" x="587.9" y="264.5"/>
<use href="#ci" x="589.2" y="264.5"/>
<use href="#ci" x="590.5" y="264.5"/>
<use href="#ci" x="591.8" y="264.5"/>
<use href="#ci" x="593.1" y="264.5"/>
<use href="#ci" x="594.4" y="264.5"/>
<use href="#ci" x="595.7" y="264.5"/>
<use href="#ci" x="597.0" y="264.5"/>
<use href="#ci" x="598.3" y="264.5"/>
<use href="#ci" x="599.6" y="264.5"/>
<use href="#ci" x="600.9" y="264.5"/>
<use href="#ci" x="602.2" y="264.5"/>
<use href="#ci" x="602.7" y="264.5"/>
<use href="#ci" x="603.5" y="293.5"/>
<use href="#ci" x="604.8" y="293.5"/>
<use href="#ci" x="606.1" y="293.5"/>
<use href="#ci" x="607.4" y="293.5"/>
<use href="#ci" x="608.7" y="293.5"/>
<use href="#ci" x="610.0" y="293.5"/>
<use href="#ci" x="611.3" y="293.5"/>
<use href="#ci" x="612.6" y="293.5"/>
<use href="#ci" x="613.9" y="293.5"/>
<use href="#ci" x="615.2" y="293.5"/>
<use href="#ci" x="616.5" y="293.5"/>
<use href="#ci" x="617.8" y="293.5"/>
<use href="#ci" x="619.1" y="293.5"/>
<use href="#ci" x="620.4" y="293.5"/>
<use href="#ci" x="621.7" y="293.5"/>
<use href="#ci" x="623.0" y="293.5"/>
<use href="#ci" x="624.3" y="293.5"/>
<use href="#ci" x="625.6" y="293.5"/>
<use href="#ci" x="626.9" y="293.5"/>
<use href="#ci" x="628.2" y="293.5"/>
<use href="#ci" x="629.5" y="293.5"/>
<use href="#ci" x="630.8" y="293.5"/>
<use href="#ci" x="632.2" y="293.5"/>
<use href="#ci" x="633.0" y="322.7"/>
<use href="#ci" x="634.3" y="322.7"/>
<use href="#ci" x="635.6" y="322.7"/>
<use href="#ci" x="636.9" y="322.7"/>
<use href="#ci" x="638.2" y="322.7"/>
<use href="#ci" x="639.5" y="322.7"/>
<use href="#ci" x="640.8" y="322.7"/>
<use href="#ci" x="642.1" y="322.7"/>
<use href="#ci" x="643.4" y="322.7"/>
<use href="#ci" x="644.7" y="322.7"/>
<use href="#ci" x="646.0" y="322.7"/>
<use href="#ci" x="647.3" y="322.7"/>
<use href="#ci" x="648.6" y="322.7"/>
<use href="#ci" x="649.9" y="322.7"/>
<use href="#ci" x="651.2" y="322.7"/>
<use href="#ci" x="652.5" y="322.7"/>
<use href="#ci" x="653.8" y="322.7"/>
<use href="#ci" x="655.1" y="322.7"/>
<use href="#ci" x="656.4" y="322.7"/>
<use href="#ci" x="657.8" y="322.7"/>
<use href="#ci" x="658.0" y="351.2"/>
<use href="#ci" x="659.3" y="351.2"/>
<use href="#ci" x="660.6" y="351.2"/>
<use href="#ci" x="661.9" y="351.2"/>
<use href="#ci" x="663.2" y="351.2"/>
<use href="#ci" x="664.5" y="351.2"/>
<use href="#ci" x="665.8" y="351.2"/>
<use href="#ci" x="667.1" y="351.2"/>
<use href="#ci" x="668.4" y="351.2"/>
<use href="#ci" x="669.7" y="351.2"/>
<use href="#ci" x="670.0" y="351.2"/>
<use href="#ci" x="670.5" y="380.4"/>
<use href="#ci" x="671.8" y="380.4"/>
<use href="#ci" x="673.1" y="380.4"/>
<use href="#ci" x="674.4" y="380.4"/>
<use href="#ci" x="675.7" y="380.4"/>
<use href="#ci" x="677.0" y="380.4"/>
<use href="#ci" x="678.3" y="380.4"/>
<use href="#ci" x="679.6" y="380.4"/>
<use href="#ci" x="680.9" y="380.4"/>
<use href="#ci" x="682.2" y="380.4"/>
<use href="#ci" x="683.5" y="380.4"/>
<use href="#ci" x="684.8" y="380.4"/>
<use href="#ci" x="686.1" y="380.4"/>
<use href="#ci" x="687.4" y="380.4"/>
<use href="#ci" x="688.7" y="380.4"/>
<use href="#ci" x="690.0" y="380.4"/>
<use href="#ci" x="691.3" y="380.4"/>
<use href="#ci" x="692.6" y="380.4"/>
<use href="#ci" x="693.9" y="380.4"/>
<use href="#ci" x="695.2" y="380.4"/>
<use href="#ci" x="696.3" y="380.4"/>
<use href="#ci" x="696.5" y="409.9"/>
<use href="#ci" x="697.8" y="409.9"/>
<use href="#ci" x="699.1" y="409.9"/>
<use href="#ci" x="700.4" y="409.9"/>
<use href="#ci" x="701.7" y="409.9"/>
<use href="#ci" x="703.0" y="409.9"/>
<use href="#ci" x="704.3" y="409.9"/>
<use href="#ci" x="705.6" y="409.9"/>
<use href="#ci" x="706.9" y="409.9"/>
<use href="#ci" x="708.2" y="409.9"/>
<use href="#ci" x="709.5" y="409.9"/>
<use href="#ci" x="710.8" y="409.9"/>
<use href="#ci" x="712.1" y="409.9"/>
<use href="#ci" x="713.4" y="409.9"/>
<use href="#ci" x="714.7" y="409.9"/>
<use href="#ci" x="716.0" y="409.9"/>
<use href="#ci" x="717.3" y="409.9"/>
<use href="#ci" x="718.6" y="409.9"/>
<use href="#ci" x="719.9" y="409.9"/>
<use href="#ci" x="721.2" y="409.9"/>
<use href="#ci" x="722.4" y="409.9"/>
<use href="#ci" x="722.6" y="419.4"/>
<use href="#ci" x="723.9" y="419.4"/>
<use href="#ci" x="725.2" y="419.4"/>
<use href="#ci" x="726.5" y="419.4"/>
<use href="#ci" x="727.8" y="419.4"/>
<use href="#ci" x="729.1" y="419.4"/>
<use href="#ci" x="730.6" y="419.4"/>
<use href="#ci" x="731.0" y="400.2"/>
<use href="#ci" x="732.3" y="400.2"/>
<use href="#ci" x="733.6" y="400.2"/>
<use href="#ci" x="735.0" y="400.2"/>
<use href="#ci" x="736.0" y="410.8"/>
<use href="#ci" x="737.3" y="410.8"/>
<use href="#ci" x="738.6" y="410.8"/>
<use href="#ci" x="739.9" y="410.8"/>
<use href="#ci" x="741.2" y="410.8"/>
<use href="#ci" x="742.0" y="410.8"/>
<use href="#ci" x="742.5" y="428.9"/>
<use href="#ci" x="743.8" y="428.9"/>
<use href="#ci" x="745.1" y="428.9"/>
<use href="#ci" x="746.0" y="428.9"/>
<use href="#ci" x="746.5" y="391.2"/>
<use href="#ci" x="747.8" y="391.2"/>
<use href="#ci" x="749.1" y="391.2"/>
<use href="#ci" x="750.4" y="391.2"/>
<use href="#ci" x="751.7" y="391.2"/>
<use href="#ci" x="753.0" y="391.2"/>
<use href="#ci" x="754.3" y="391.2"/>
<use href="#ci" x="755.6" y="391.2"/>
<use href="#ci" x="756.9" y="391.2"/>
<use href="#ci" x="758.2" y="391.2"/>
<use href="#ci" x="759.5" y="391.2"/>
<use href="#ci" x="760.8" y="391.2"/>
<use href="#ci" x="762.1" y="391.2"/>
<use href="#ci" x="763.4" y="391.2"/>
<use href="#ci" x="764.7" y="391.2"/>
<use href="#ci" x="765.8" y="391.2"/>
<use href="#ci" x="766.8" y="406.2"/>
</g>
<rect x="113.4" y="16.9" width="811.6" height="655.0" fill="none" stroke="#000" stroke-width="2.6"/>
<path d="M100.4 671.90H113.4M106.4 635.51H113.4M100.4 599.12H113.4M106.4 562.73H113.4M100.4 526.34H113.4M106.4 489.96H113.4M100.4 453.57H113.4M106.4 417.18H113.4M100.4 380.79H113.4M106.4 344.40H113.4M100.4 308.01H113.4M106.4 271.62H113.4M100.4 235.23H113.4M106.4 198.84H113.4M100.4 162.46H113.4M106.4 126.07H113.4M100.4 89.68H113.4M106.4 53.29H113.4M100.4 16.90H113.4M113.40 671.9V684.6M174.48 671.9V678.4M210.21 671.9V678.4M235.56 671.9V678.4M255.22 671.9V678.4M271.29 671.9V678.4M284.87 671.9V678.4M296.64 671.9V678.4M307.02 671.9V678.4M316.30 671.9V684.6M377.38 671.9V678.4M413.11 671.9V678.4M438.46 671.9V678.4M458.12 671.9V678.4M474.19 671.9V678.4M487.77 671.9V678.4M499.54 671.9V678.4M509.92 671.9V678.4M519.20 671.9V684.6M580.28 671.9V678.4M616.01 671.9V678.4M641.36 671.9V678.4M661.02 671.9V678.4M677.09 671.9V678.4M690.67 671.9V678.4M702.44 671.9V678.4M712.82 671.9V678.4M722.10 671.9V684.6M783.18 671.9V678.4M818.91 671.9V678.4M844.26 671.9V678.4M863.92 671.9V678.4M879.99 671.9V678.4M893.57 671.9V678.4M905.34 671.9V678.4M915.72 671.9V678.4M925.00 671.9V684.6" stroke="#000" stroke-width="2.6" fill="none"/>
<g font-family="Liberation Sans" font-size="28" fill="#000" stroke="#000" stroke-width="0.35">
<text transform="translate(90.8 681.6) scale(1 1.06)" text-anchor="end">20</text>
<text transform="translate(90.8 608.8) scale(1 1.06)" text-anchor="end">30</text>
<text transform="translate(90.8 536.0) scale(1 1.06)" text-anchor="end">40</text>
<text transform="translate(90.8 463.3) scale(1 1.06)" text-anchor="end">50</text>
<text transform="translate(90.8 390.5) scale(1 1.06)" text-anchor="end">60</text>
<text transform="translate(90.8 317.7) scale(1 1.06)" text-anchor="end">70</text>
<text transform="translate(90.8 244.9) scale(1 1.06)" text-anchor="end">80</text>
<text transform="translate(90.8 172.2) scale(1 1.06)" text-anchor="end">90</text>
<text transform="translate(90.8 99.4) scale(1 1.06)" text-anchor="end">100</text>
<text transform="translate(90.8 26.6) scale(1 1.06)" text-anchor="end">110</text>
<text transform="translate(113.4 716.3) scale(1 1.06)" text-anchor="middle">1</text>
<text transform="translate(316.3 716.3) scale(1 1.06)" text-anchor="middle">10</text>
<text transform="translate(519.2 716.3) scale(1 1.06)" text-anchor="middle">100</text>
<text transform="translate(722.1 716.3) scale(1 1.06)" text-anchor="middle">1000</text>
<text transform="translate(925.0 716.3) scale(1 1.06)" text-anchor="middle">10000</text>
</g>
<path d="M45.52 96.08H51.07V100.28H45.52ZM53.65 96.08H58.99V100.28H53.65ZM45.52 23.30H51.07V27.50H45.52ZM53.65 23.30H58.99V27.50H53.65ZM61.09 23.30H66.65V27.50H61.09ZM69.22 23.30H74.56V27.50H69.22ZM107.05 713.00H112.60V717.20H107.05ZM115.18 713.00H120.52V717.20H115.18ZM302.16 713.00H307.72V717.20H302.16ZM310.29 713.00H315.63V717.20H310.29ZM497.27 713.00H502.83V717.20H497.27ZM505.41 713.00H510.75V717.20H505.41ZM692.39 713.00H697.95V717.20H692.39ZM700.52 713.00H705.86V717.20H700.52ZM887.50 713.00H893.06V717.20H887.50ZM895.63 713.00H900.97V717.20H895.63Z" fill="#fff"/>
<text transform="translate(518.5 768.8) scale(1 1.05)" font-family="Liberation Sans" font-size="34" text-anchor="middle" stroke="#000" stroke-width="0.35">Exposure time (h)</text>
<text transform="translate(31.8 345.5) rotate(-90) scale(1 1.08)" font-family="Liberation Sans" font-size="34" text-anchor="middle" stroke="#000" stroke-width="0.35">Corona device power (%)</text>
<rect x="569.7" y="27.1" width="341.2" height="170.1" fill="#fff" stroke="#222" stroke-width="1.6"/>
<path d="M575.5 62.5H582M609.5 62.5H616" stroke="#000" stroke-width="3.5"/>
<path d="M595.50,49.00L598.50,57.77L607.77,57.91L600.35,63.48L603.08,72.34L595.50,67.00L587.92,72.34L590.65,63.48L583.23,57.91L592.50,57.77Z" fill="#fff" stroke="#000" stroke-width="2.4" stroke-linejoin="round"/>
<circle cx="576.2" cy="90.7" r="1.5" fill="#c00"/><circle cx="611" cy="90.7" r="1.5" fill="#c00"/>
<polygon points="595.8,76.5 608.6,98 583,98" fill="#fff" stroke="#ff1010" stroke-width="2.6"/>
<path d="M575 115.5H582M609.5 115.5H616.5" stroke="#c825f0" stroke-width="3"/>
<circle cx="595.8" cy="115.4" r="10.3" fill="#fff" stroke="#c825f0" stroke-width="3"/>
<path d="M574.8 140.5H581.5M609.5 140.5H616.4" stroke="#14ea14" stroke-width="3.5"/>
<rect x="583.7" y="129.3" width="23.6" height="22.6" fill="#fff" stroke="#14ea14" stroke-width="2.5"/>
<path d="M574.8 165.3H581.5M609.8 165.3H616.4" stroke="#22f2fa" stroke-width="3.5"/>
<polygon points="595.7,151.5 609.6,165.3 595.7,179.3 581.8,165.3" fill="#fff" stroke="#22f2fa" stroke-width="2.3"/><circle cx="595.7" cy="165.3" r="1" fill="#22f2fa"/>
<g font-family="Liberation Sans" font-size="18" fill="#000" letter-spacing="0.27" stroke="#000" stroke-width="0.38">
<text transform="translate(622.5 69.5) scale(1 1.04)">50 µm nichrome wire (Ni<tspan font-size="11.6" dy="4">0.8</tspan><tspan dy="-4"> Cr</tspan><tspan font-size="11.6" dy="4" letter-spacing="0">0.20</tspan><tspan dy="-4">)</tspan></text>
<text transform="translate(622.5 97.7) scale(1 1.04)">50 µn stainless steel wire (S30200)</text>
<text transform="translate(622.5 124.8) scale(1 1.04)" xml:space="preserve">50  µm tungsten wire (W, 99,95%)</text>
<text transform="translate(622.5 149) scale(1 1.04)">25 µm tungsten wire (W, 99,95%)</text>
<text transform="translate(622.5 173) scale(1 1.04)">100 µm tungsten wire (W, 99,05%)</text>
</g>
</svg>
</body></html>
